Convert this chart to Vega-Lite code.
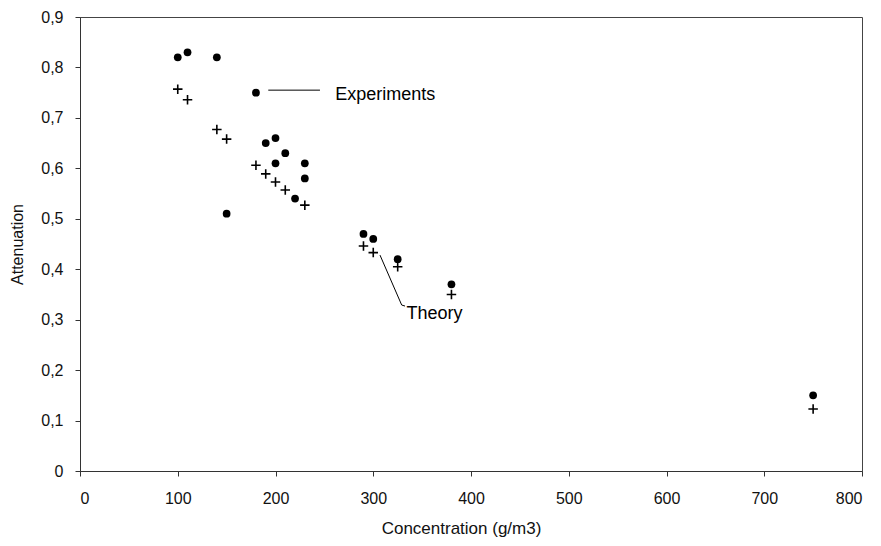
{
  "$schema": "https://vega.github.io/schema/vega-lite/v6.json",
  "width": 782,
  "height": 454,
  "autosize": "none",
  "padding": {"left": 80, "top": 17, "right": 19, "bottom": 75},
  "background": "white",
  "config": {
    "font": "Liberation Sans",
    "view": {"stroke": "#444", "strokeWidth": 1},
    "axis": {
      "domainColor": "#333",
      "tickColor": "#333",
      "labelColor": "#111",
      "titleColor": "#111",
      "labelFont": "Liberation Sans",
      "titleFont": "Liberation Sans",
      "labelFontSize": 16,
      "titleFontSize": 16,
      "titleFontWeight": "normal",
      "grid": false,
      "tickSize": 5
    }
  },
  "datasets": {
    "points": [
      {"series": "Experiments", "conc": 100, "att": 0.82},
      {"series": "Experiments", "conc": 110, "att": 0.83},
      {"series": "Experiments", "conc": 140, "att": 0.82},
      {"series": "Experiments", "conc": 150, "att": 0.51},
      {"series": "Experiments", "conc": 180, "att": 0.75},
      {"series": "Experiments", "conc": 190, "att": 0.65},
      {"series": "Experiments", "conc": 200, "att": 0.66},
      {"series": "Experiments", "conc": 200, "att": 0.61},
      {"series": "Experiments", "conc": 210, "att": 0.63},
      {"series": "Experiments", "conc": 220, "att": 0.54},
      {"series": "Experiments", "conc": 230, "att": 0.61},
      {"series": "Experiments", "conc": 230, "att": 0.58},
      {"series": "Experiments", "conc": 290, "att": 0.47},
      {"series": "Experiments", "conc": 300, "att": 0.46},
      {"series": "Experiments", "conc": 325, "att": 0.42},
      {"series": "Experiments", "conc": 380, "att": 0.37},
      {"series": "Experiments", "conc": 750, "att": 0.15},
      {"series": "Theory", "conc": 100, "att": 0.757},
      {"series": "Theory", "conc": 110, "att": 0.736},
      {"series": "Theory", "conc": 140, "att": 0.677},
      {"series": "Theory", "conc": 150, "att": 0.658},
      {"series": "Theory", "conc": 180, "att": 0.606},
      {"series": "Theory", "conc": 190, "att": 0.589},
      {"series": "Theory", "conc": 200, "att": 0.573},
      {"series": "Theory", "conc": 210, "att": 0.557},
      {"series": "Theory", "conc": 230, "att": 0.527},
      {"series": "Theory", "conc": 290, "att": 0.446},
      {"series": "Theory", "conc": 300, "att": 0.433},
      {"series": "Theory", "conc": 325, "att": 0.405},
      {"series": "Theory", "conc": 380, "att": 0.35},
      {"series": "Theory", "conc": 750, "att": 0.123}
    ],
    "leaders": [
      {"id": "Experiments", "ord": 1, "conc": 192.6, "att": 0.755},
      {"id": "Experiments", "ord": 2, "conc": 245.5, "att": 0.755},
      {"id": "Theory", "ord": 1, "conc": 306.9, "att": 0.428},
      {"id": "Theory", "ord": 2, "conc": 329.1, "att": 0.329},
      {"id": "Theory", "ord": 3, "conc": 332.5, "att": 0.327}
    ],
    "labels": [
      {"text": "Experiments", "conc": 261, "att": 0.745},
      {"text": "Theory", "conc": 334, "att": 0.311}
    ]
  },
  "layer": [
    {
      "data": {"name": "points"},
      "transform": [{"filter": "datum.series === 'Experiments'"}],
      "mark": {"type": "point", "shape": "circle", "filled": true, "color": "#000", "opacity": 1, "size": 60},
      "encoding": {
        "x": {
          "field": "conc", "type": "quantitative",
          "scale": {"domain": [0, 800], "nice": false},
          "axis": {
            "title": "Concentration (g/m3)",
            "values": [0, 100, 200, 300, 400, 500, 600, 700, 800],
            "labelPadding": 14,
            "titlePadding": 14,
            "titleFontSize": 17,
            "titleX": 381
          }
        },
        "y": {
          "field": "att", "type": "quantitative",
          "scale": {"domain": [0, 0.9], "nice": false},
          "axis": {
            "title": "Attenuation",
            "values": [0, 0.1, 0.2, 0.3, 0.4, 0.5, 0.6, 0.7, 0.8, 0.9],
            "labelExpr": "datum.value == 0 ? '0' : replace(format(datum.value, '.1f'), '.', ',')",
            "labelPadding": 12,
            "titlePadding": 15
          }
        }
      }
    },
    {
      "data": {"name": "points"},
      "transform": [{"filter": "datum.series === 'Theory'"}],
      "mark": {"type": "point", "shape": "M-1,0H1M0,-1V1", "filled": false, "color": "#000", "opacity": 1, "strokeWidth": 1.6, "size": 90},
      "encoding": {
        "x": {"field": "conc", "type": "quantitative"},
        "y": {"field": "att", "type": "quantitative"}
      }
    },
    {
      "data": {"name": "leaders"},
      "mark": {"type": "line", "color": "#000", "strokeWidth": 1},
      "encoding": {
        "x": {"field": "conc", "type": "quantitative"},
        "y": {"field": "att", "type": "quantitative"},
        "detail": {"field": "id"},
        "order": {"field": "ord"}
      }
    },
    {
      "data": {"name": "labels"},
      "mark": {"type": "text", "align": "left", "baseline": "middle", "fontSize": 18, "font": "Liberation Sans", "color": "#000"},
      "encoding": {
        "x": {"field": "conc", "type": "quantitative"},
        "y": {"field": "att", "type": "quantitative"},
        "text": {"field": "text"}
      }
    }
  ]
}
